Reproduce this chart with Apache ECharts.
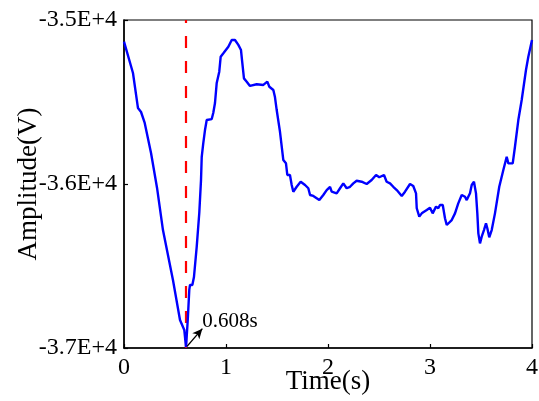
<!DOCTYPE html>
<html>
<head>
<meta charset="utf-8">
<script src="https://cdn.jsdelivr.net/npm/echarts@6/dist/echarts.min.js"></script>
<style>
  html, body { margin: 0; padding: 0; background: #fff; }
  #chart { width: 539px; height: 401px; }
</style>
</head>
<body>
<div id="chart"></div>
<script>
// Sampled waveform: time (s) and amplitude (V)
const timeS = [
  0.000, 0.088, 0.137, 0.152, 0.167, 0.186, 0.203, 0.265, 0.324, 0.382,
  0.480, 0.549, 0.591, 0.608, 0.625, 0.640, 0.647, 0.670, 0.686, 0.713,
  0.738, 0.755, 0.762, 0.777, 0.794, 0.811, 0.860, 0.875, 0.892, 0.909,
  0.934, 0.948, 0.974, 1.023, 1.056, 1.088, 1.121, 1.147, 1.157, 1.176,
  1.203, 1.235, 1.301, 1.366, 1.405, 1.425, 1.464, 1.480, 1.497, 1.513,
  1.529, 1.546, 1.562, 1.588, 1.601, 1.627, 1.644, 1.660, 1.693, 1.732,
  1.775, 1.807, 1.824, 1.856, 1.889, 1.915, 1.954, 1.987, 2.020, 2.036,
  2.085, 2.118, 2.150, 2.183, 2.216, 2.248, 2.281, 2.330, 2.379, 2.428,
  2.471, 2.503, 2.549, 2.575, 2.608, 2.640, 2.674, 2.723, 2.755, 2.804,
  2.836, 2.863, 2.870, 2.895, 2.919, 2.968, 3.000, 3.026, 3.059, 3.081,
  3.098, 3.125, 3.147, 3.164, 3.179, 3.213, 3.245, 3.277, 3.311, 3.343,
  3.360, 3.392, 3.409, 3.431, 3.451, 3.464, 3.474, 3.490, 3.507, 3.529,
  3.549, 3.562, 3.581, 3.605, 3.637, 3.679, 3.719, 3.752, 3.768, 3.811,
  3.833, 3.866, 3.899, 3.941, 3.964, 4.000
];
const amplitudeV = [
  -35132, -35323, -35537, -35549, -35561, -35567, -35628, -35811, -36024, -36281,
  -36585, -36829, -36890, -36995, -36829, -36646, -36616, -36616, -36567, -36382,
  -36177, -35976, -35834, -35752, -35671, -35610, -35604, -35567, -35506, -35384,
  -35315, -35224, -35203, -35163, -35122, -35122, -35152, -35183, -35244, -35356,
  -35376, -35402, -35392, -35396, -35376, -35407, -35427, -35470, -35549, -35559,
  -35681, -35691, -35854, -35874, -35945, -35945, -36006, -36047, -36017, -35986,
  -36006, -36026, -36067, -36073, -36087, -36098, -36067, -36037, -36017, -36047,
  -36057, -36026, -35996, -36026, -36017, -35996, -35980, -35986, -36000, -35976,
  -35945, -35959, -35945, -35986, -35996, -36017, -36037, -36073, -36047, -36000,
  -36012, -36057, -36148, -36199, -36179, -36159, -36145, -36179, -36138, -36148,
  -36128, -36128, -36209, -36250, -36260, -36220, -36179, -36118, -36067, -36078,
  -36098, -36057, -36006, -35986, -36057, -36179, -36301, -36362, -36321, -36281,
  -36240, -36270, -36325, -36281, -36179, -36017, -35915, -35834, -35874, -35874,
  -35773, -35610, -35488, -35305, -35224, -35122
];
// Time of the minimum, marked by the dashed line and the arrow label
const minTime = 0.608;
const minLabel = '0.608s';
// Axis ranges and ticks
const xTicks = [0, 1, 2, 3, 4];
const yMin = -37000, yMax = -35000, yStep = 1000;

const serif = '"Liberation Serif", "DejaVu Serif", serif';
const chart = echarts.init(document.getElementById('chart'), null, { renderer: 'canvas' });

const points = timeS.map((t, i) => [t, amplitudeV[i]]);

chart.setOption({
  animation: false,
  backgroundColor: '#fff',
  grid: {
    left: 124, right: 7, top: 20, bottom: 53,
    outerBoundsMode: 'none',
    containLabel: false,
    show: true, borderColor: '#000', borderWidth: 1.2, backgroundColor: 'transparent'
  },
  xAxis: {
    type: 'value',
    min: xTicks[0], max: xTicks[xTicks.length - 1], interval: 1,
    name: 'Time(s)', nameLocation: 'middle', nameGap: 20, nameMoveOverlap: false,
    nameTextStyle: { fontFamily: serif, fontSize: 27, color: '#000' },
    axisLine: { show: true, onZero: false, lineStyle: { color: '#000', width: 1.5 } },
    axisTick: { show: true, inside: true, length: 4, lineStyle: { color: '#000', width: 1.2 } },
    axisLabel: { fontFamily: serif, fontSize: 24, color: '#000', margin: 8 },
    splitLine: { show: false }
  },
  yAxis: {
    type: 'value',
    min: yMin, max: yMax, interval: yStep,
    name: 'Amplitude(V)', nameLocation: 'middle', nameGap: 82, nameRotate: 90, nameMoveOverlap: false,
    nameTextStyle: { fontFamily: serif, fontSize: 27, color: '#000' },
    axisLine: { show: true, onZero: false, lineStyle: { color: '#000', width: 1.5 } },
    axisTick: { show: true, inside: true, length: 4, lineStyle: { color: '#000', width: 1.2 } },
    axisLabel: {
      fontFamily: serif, fontSize: 24, color: '#000', margin: 7,
      formatter: v => (v / 1e4).toFixed(1) + 'E+4'
    },
    splitLine: { show: false }
  },
  series: [
    {
      type: 'line',
      data: points,
      showSymbol: false,
      lineStyle: { color: '#0000ff', width: 2.4 },
      z: 3,
      markLine: {
        silent: true,
        symbol: ['none', 'none'],
        label: { show: false },
        lineStyle: { color: '#ff0000', width: 2.2, type: [12, 13] },
        data: [[{ coord: [minTime, yMin] }, { coord: [minTime, yMax] }]],
        z: 2
      }
    },
    {
      // arrow pointing at the minimum, with its time label
      type: 'line',
      data: [],
      markLine: {
        silent: true,
        symbol: ['none', 'arrow'],
        symbolSize: [7, 10],
        label: { show: false },
        lineStyle: { color: '#000', width: 1.4, type: 'solid' },
        data: [[{ coord: [minTime + 0.01, yMin + 10] }, { coord: [minTime + 0.16, yMin + 118] }]]
      },
      markPoint: {
        silent: true,
        symbol: 'rect', symbolSize: 1,
        itemStyle: { color: 'transparent' },
        label: {
          show: true, position: 'right', distance: 0,
          formatter: minLabel,
          fontFamily: serif, fontSize: 21, color: '#000'
        },
        data: [{ coord: [minTime + 0.155, yMin + 160] }]
      }
    }
  ]
});
</script>
</body>
</html>
